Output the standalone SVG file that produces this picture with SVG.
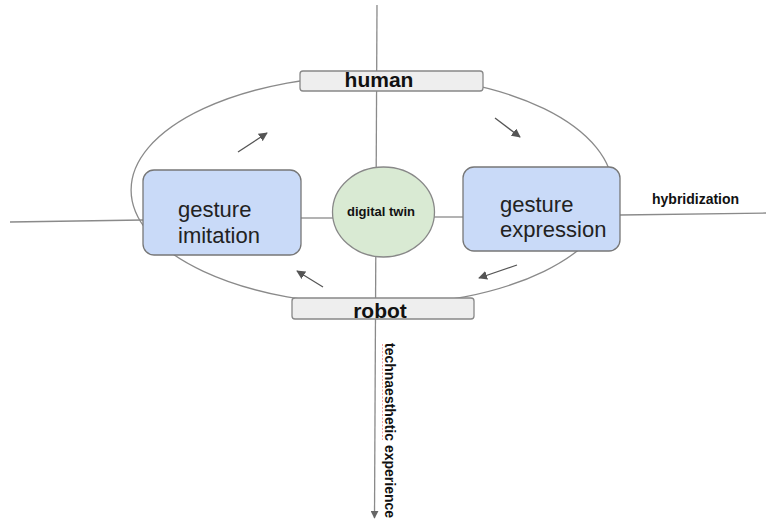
<svg xmlns="http://www.w3.org/2000/svg" width="766" height="521" viewBox="0 0 766 521">
<defs>
<marker id="ah" viewBox="0 0 10 10" refX="9" refY="5" markerWidth="9" markerHeight="9" markerUnits="userSpaceOnUse" orient="auto"><path d="M0,0 L10,5 L0,10 z" fill="#555"/></marker>
<marker id="ah2" viewBox="0 0 10 10" refX="9" refY="5" markerWidth="8" markerHeight="8" markerUnits="userSpaceOnUse" orient="auto"><path d="M0,0 L10,5 L0,10 z" fill="#666"/></marker>
</defs>
<style>
.ln{stroke:#8a8a8a;stroke-width:1.3;fill:none}
.ar{stroke:#555;stroke-width:1.3;fill:none}
.box{fill:#c9daf8;stroke:#777;stroke-width:1.3}
.lbl{fill:#eeeeee;stroke:#888;stroke-width:1.3}
.big{font-family:"Liberation Sans",Arial,sans-serif;font-size:22px;fill:#222}
.bold{font-family:"Liberation Sans",Arial,sans-serif;font-weight:bold;fill:#111}
</style>
<rect width="766" height="521" fill="#ffffff"/>
<g id="connectors">
<path class="ln" d="M378,75 A247,115 0 0 0 378,305 A235,115 0 0 0 378,75 Z"/>
<line class="ln" x1="377" y1="5" x2="374.5" y2="518" marker-end="url(#ah2)"/>
<line class="ln" x1="10" y1="222" x2="143" y2="220"/>
<line class="ln" x1="301" y1="218" x2="333" y2="218"/>
<line class="ln" x1="434" y1="217" x2="463" y2="217"/>
<line class="ln" x1="620" y1="215" x2="766" y2="213"/>
<line class="ar" x1="238" y1="152" x2="267" y2="133" marker-end="url(#ah)"/>
<line class="ar" x1="495" y1="118" x2="520" y2="137" marker-end="url(#ah)"/>
<line class="ar" x1="517" y1="265" x2="479" y2="278" marker-end="url(#ah)"/>
<line class="ar" x1="323" y1="287" x2="297" y2="271" marker-end="url(#ah)"/>
</g>
<g id="human">
<rect class="lbl" x="300" y="71" width="183" height="20" rx="3"/>
<text class="bold" x="379" y="87" font-size="21" text-anchor="middle">human</text>
</g>
<g id="robot">
<rect class="lbl" x="292" y="298" width="182" height="21" rx="3"/>
<text class="bold" x="380" y="318" font-size="21" text-anchor="middle">robot</text>
</g>
<g id="gesture-imitation">
<rect class="box" x="143" y="170" width="158" height="85" rx="11"/>
<text class="big" x="178" y="217">gesture</text>
<text class="big" x="178" y="243">imitation</text>
</g>
<g id="digital-twin">
<ellipse cx="383.5" cy="212" rx="51" ry="45" fill="#d9ead3" stroke="#888" stroke-width="1.3"/>
<text class="bold" x="381" y="216" font-size="13" text-anchor="middle">digital twin</text>
</g>
<g id="gesture-expression">
<rect class="box" x="463" y="167" width="157" height="84" rx="11"/>
<text class="big" x="500" y="212">gesture</text>
<text class="big" x="500" y="237">expression</text>
</g>
<g id="hybridization">
<text class="bold" x="652" y="204" font-size="14">hybridization</text>
</g>
<g id="technaesthetic">
<line x1="382.5" y1="344" x2="382.5" y2="440" stroke="#f2a0a0" stroke-width="1" stroke-dasharray="2,1.5"/>
<text class="bold" transform="translate(384.5,343) rotate(90)" x="0" y="0" font-size="14">technaesthetic experience</text>
</g>
</svg>
